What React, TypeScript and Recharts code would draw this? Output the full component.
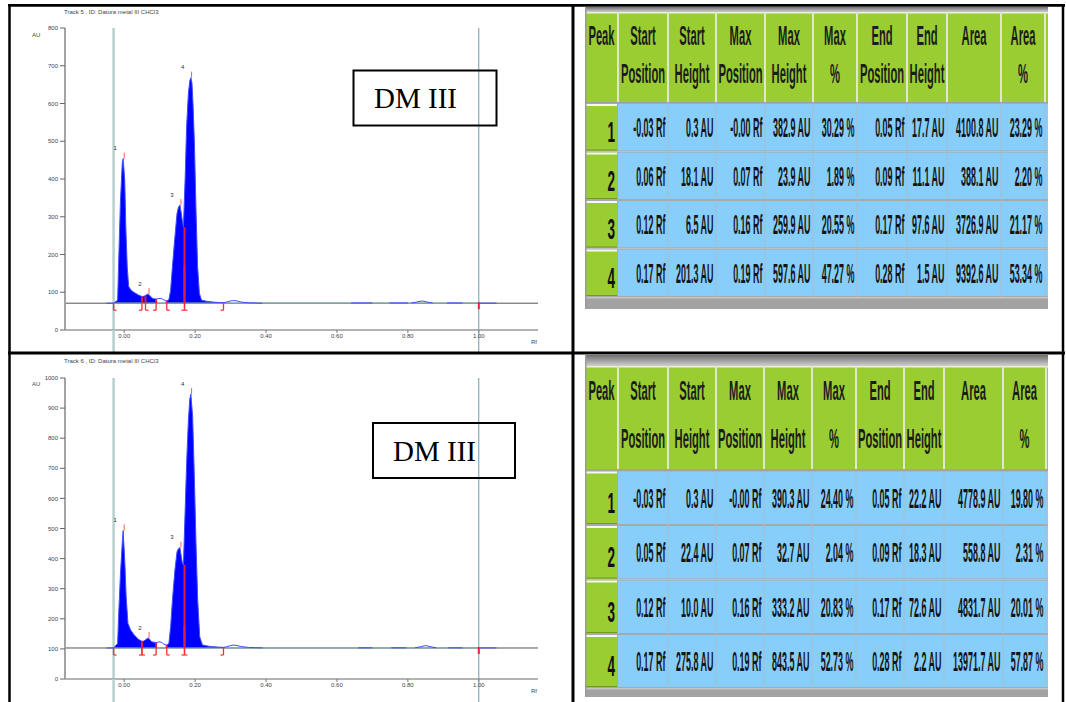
import React from "react";
import {
  ComposedChart,
  Area,
  Line,
  Scatter,
  XAxis,
  YAxis,
  ReferenceLine,
} from "recharts";

const FONT = "'Liberation Sans', Arial, sans-serif";

// Densitogram traces (Rf, AU). null = trace hidden under the baseline.
const track5Rf = [
  -0.05, -0.03, -0.0185, -0.0155, -0.0105, -0.0055, -0.003, 0.0015, 0.0045, 0.0085, 0.0125, 0.019, 0.027, 0.04,
  0.05, 0.056, 0.061, 0.066, 0.071, 0.076, 0.082, 0.09, 0.095, 0.101, 0.108, 0.115, 0.12, 0.126, 0.131, 0.136,
  0.143, 0.149, 0.153, 0.157, 0.161, 0.164, 0.167, 0.172, 0.176, 0.181, 0.185, 0.188, 0.191, 0.194, 0.198, 0.2025,
  0.207, 0.212, 0.218, 0.233, 0.25, 0.265, 0.28, 0.289, 0.3, 0.308, 0.318, 0.33, 0.35, 0.37, 0.39,
  0.5, 0.64, 0.7, 0.72, 0.748, 0.8, 0.805, 0.81, 0.825, 0.84, 0.855, 0.87, 0.89, 0.91, 0.954, 0.975, 1.0, 1.05,
];
const track5Au = [
  71, 71.3, 79, 185, 344, 441, 453.9, 397, 274, 168, 115, 106, 100, 93,
  88.7, 89.5, 92, 94.9, 92.5, 87, 83, 82.1, 83, 84, 82, 78.5, 77.5, 80, 106, 168,
  247, 309, 325, 330.9, 309, 288, 272.3, 406, 539, 627, 660, 668.6, 655, 600, 495, 318,
  168, 97, 79, 76, 74, 73, 72.5, 74, 77, 78, 77, 74, 72, 71.5, 71,
  null, 71.6, 71.6, null, 71.6, 71.6, null, 71.6, 74, 77, 74, 71.6, null, 71.6, 71.6, null, 71.3, 71.3,
];

const track6Rf = [
  -0.05, -0.03, -0.0185, -0.0155, -0.0105, -0.0055, -0.003, 0.0015, 0.0055, 0.0105, 0.018, 0.027, 0.04,
  0.05, 0.055, 0.06, 0.066, 0.071, 0.076, 0.082, 0.09, 0.095, 0.101, 0.108, 0.115, 0.12, 0.126, 0.131, 0.136,
  0.143, 0.149, 0.153, 0.157, 0.161, 0.164, 0.167, 0.171, 0.176, 0.181, 0.185, 0.188, 0.193, 0.198, 0.2027,
  0.2073, 0.213, 0.2205, 0.242, 0.265, 0.28, 0.289, 0.3, 0.308, 0.318, 0.33, 0.35, 0.37, 0.39,
  0.5, 0.66, 0.7, 0.725, 0.753, 0.796, 0.808, 0.82, 0.835, 0.85, 0.865, 0.88, 0.897, 0.914, 0.954, 0.975, 1.0, 1.05,
];
const track6Au = [
  103, 103.3, 118, 218, 351, 451, 493.3, 395, 273, 185, 163, 148, 132,
  125.2, 126, 130, 135.7, 133, 125, 122.5, 121.3, 122, 124, 119, 114, 113, 118, 174, 262,
  362, 423, 433, 436.2, 406, 385, 378.8, 528, 716, 860, 930, 946.5, 871, 661, 440,
  262, 140, 113, 108, 106, 105.2, 107, 111, 113, 111, 108, 105, 104, 103.5,
  null, 103.6, 103.6, null, 103.6, 103.6, null, 103.6, 107, 111, 107, 103.6, null, 103.6, 103.6, null, 103.3, 103.3,
];

const track5Baseline = 71;
const track6Baseline = 103;

const applicationRf = -0.03;
const frontRf = 1.0;

const rfTicks = [0, 0.2, 0.4, 0.6, 0.8, 1.0];
const au5Ticks = [0, 100, 200, 300, 400, 500, 600, 700, 800];
const au6Ticks = [0, 100, 200, 300, 400, 500, 600, 700, 800, 900, 1000];

// Peak tables
const headers = [
  ["Peak"], ["Start", "Position"], ["Start", "Height"], ["Max", "Position"], ["Max", "Height"],
  ["Max", "%"], ["End", "Position"], ["End", "Height"], ["Area"], ["Area", "%"],
];

const t5StartPos = [-0.03, 0.06, 0.12, 0.17];
const t5StartHeight = [0.3, 18.1, 6.5, 201.3];
const t5MaxPos = [-0, 0.07, 0.16, 0.19];
const t5MaxHeight = [382.9, 23.9, 259.9, 597.6];
const t5MaxPct = [30.29, 1.89, 20.55, 47.27];
const t5EndPos = [0.05, 0.09, 0.17, 0.28];
const t5EndHeight = [17.7, 11.1, 97.6, 1.5];
const t5Area = [4100.8, 388.1, 3726.9, 9392.6];
const t5AreaPct = [23.29, 2.2, 21.17, 53.34];

const t6StartPos = [-0.03, 0.05, 0.12, 0.17];
const t6StartHeight = [0.3, 22.4, 10.0, 275.8];
const t6MaxPos = [-0, 0.07, 0.16, 0.19];
const t6MaxHeight = [390.3, 32.7, 333.2, 843.5];
const t6MaxPct = [24.4, 2.04, 20.83, 52.73];
const t6EndPos = [0.05, 0.09, 0.17, 0.28];
const t6EndHeight = [22.2, 18.3, 72.6, 2.2];
const t6Area = [4778.9, 558.8, 4831.7, 13971.7];
const t6AreaPct = [19.8, 2.31, 20.01, 57.87];

type Peaks = {
  startPos: number[];
  startHeight: number[];
  maxPos: number[];
  maxHeight: number[];
  maxPct: number[];
  endPos: number[];
  endHeight: number[];
  area: number[];
  areaPct: number[];
};

const peaks5: Peaks = {
  startPos: t5StartPos, startHeight: t5StartHeight, maxPos: t5MaxPos, maxHeight: t5MaxHeight,
  maxPct: t5MaxPct, endPos: t5EndPos, endHeight: t5EndHeight, area: t5Area, areaPct: t5AreaPct,
};
const peaks6: Peaks = {
  startPos: t6StartPos, startHeight: t6StartHeight, maxPos: t6MaxPos, maxHeight: t6MaxHeight,
  maxPct: t6MaxPct, endPos: t6EndPos, endHeight: t6EndHeight, area: t6Area, areaPct: t6AreaPct,
};

const fmtRf = (v: number) => (Object.is(v, -0) ? "-" : "") + v.toFixed(2) + " Rf";
const fmtAu = (v: number) => v.toFixed(1) + " AU";
const fmtPct = (v: number) => v.toFixed(2) + " %";

// integrated windows: touching peaks are merged into one filled block
function integrationRanges(p: Peaks): [number, number][] {
  const out: [number, number][] = [];
  let cur: [number, number] = [p.startPos[0], p.endPos[0]];
  for (let i = 1; i < p.startPos.length; i++) {
    if (p.startPos[i] - cur[1] <= 0.011) cur[1] = p.endPos[i];
    else {
      out.push(cur);
      cur = [p.startPos[i], p.endPos[i]];
    }
  }
  out.push(cur);
  return out;
}

const RED = "#ff2d2d";

function MarkShape(props: any) {
  const { cx, cy, payload } = props;
  if (cx == null || cy == null) return <g />;
  const k = payload.kind;
  if (k === "apex") {
    return (
      <g>
        <line x1={cx} x2={cx} y1={cy} y2={cy - 6} stroke="#ff5a5a" strokeWidth={1} />
        <text x={cx - 9} y={cy - 8.5} fontSize={6} fill="#333" fontFamily={FONT} textAnchor="middle">
          {payload.label}
        </text>
      </g>
    );
  }
  if (k === "start" || k === "end") {
    const d = k === "start" ? 3 : -3;
    return (
      <g>
        <line x1={cx} x2={cx} y1={cy} y2={cy + 7} stroke={RED} strokeWidth={1.3} />
        <line x1={cx} x2={cx + d} y1={cy + 7} y2={cy + 7} stroke={RED} strokeWidth={1.2} />
      </g>
    );
  }
  if (k === "front") {
    return <line x1={cx} x2={cx} y1={cy - 1} y2={cy + 6} stroke="#e8203a" strokeWidth={2} />;
  }
  if (k === "appExt") {
    return <line x1={cx} x2={cx} y1={cy} y2={cy + 24} stroke="#b7d0cf" strokeWidth={2.5} />;
  }
  if (k === "frontExt") {
    return <line x1={cx} x2={cx} y1={cy} y2={cy + 24} stroke="#6f9aa6" strokeWidth={1} />;
  }
  return <g />;
}

type TrackProps = {
  rf: number[];
  au: (number | null)[];
  base: number;
  peaks: Peaks;
  yTicks: number[];
  top: number;
  height: number;
};

function TrackChart({ rf, au, base, peaks, yTicks, top, height }: TrackProps) {
  const signal = rf.map((x, i) => ({ rf: x, au: au[i] }));
  const ranges = integrationRanges(peaks);
  const filled = signal.map((p) => ({
    rf: p.rf,
    au: p.au != null && ranges.some(([a, b]) => p.rf >= a - 1e-6 && p.rf <= b + 1e-6) ? p.au : null,
  }));
  const baseline = [
    { rf: -0.167, au: base },
    { rf: 1.167, au: base },
  ];
  const plateBaseline = [
    { rf: applicationRf, au: base },
    { rf: frontRf, au: base },
  ];
  const marks = [
    ...peaks.startPos.map((x) => ({ rf: x, au: base, kind: "start" })),
    ...peaks.endPos.map((x) => ({ rf: x, au: base, kind: "end" })),
    ...peaks.maxPos.map((x, i) => ({ rf: x, au: base + peaks.maxHeight[i], kind: "apex", label: String(i + 1) })),
    { rf: frontRf, au: base, kind: "front" },
    { rf: applicationRf, au: 0, kind: "appExt" },
    { rf: frontRf, au: 0, kind: "frontExt" },
  ];
  const tick = { fontSize: 6, fill: "#444", fontFamily: FONT };

  return (
    <div style={{ position: "absolute", left: 10, top }}>
      <ComposedChart width={545} height={height} margin={{ top: 20, right: 17, bottom: 0, left: 0 }}>
        <XAxis
          type="number"
          dataKey="rf"
          domain={[-0.167, 1.167]}
          ticks={rfTicks}
          interval={0}
          tickFormatter={(v: number) => v.toFixed(2)}
          height={23}
          tickSize={3}
          tickMargin={1}
          tick={tick}
          axisLine={{ stroke: "#9a9a9a", strokeWidth: 1.5 }}
          tickLine={{ stroke: "#777" }}
        />
        <YAxis
          type="number"
          dataKey="au"
          domain={[0, yTicks[yTicks.length - 1]]}
          ticks={yTicks}
          interval={0}
          width={55}
          tickSize={5}
          tickMargin={2}
          tick={tick}
          axisLine={{ stroke: "#a3a3a3", strokeWidth: 2 }}
          tickLine={{ stroke: "#666" }}
        />
        <ReferenceLine x={applicationRf} stroke="#b7d0cf" strokeWidth={2.5} />
        <ReferenceLine x={frontRf} stroke="#6f9aa6" strokeWidth={1} />
        <Line data={baseline} dataKey="au" stroke="#555" strokeWidth={1} dot={false} isAnimationActive={false} />
        <Line data={plateBaseline} dataKey="au" stroke="#7fadad" strokeWidth={1.2} dot={false} isAnimationActive={false} />
        <Area
          data={filled}
          dataKey="au"
          type="linear"
          baseValue={base}
          stroke="none"
          fill="#0000ff"
          fillOpacity={1}
          isAnimationActive={false}
        />
        <Line
          data={signal}
          dataKey="au"
          type="linear"
          stroke="#3f4dff"
          strokeWidth={1}
          dot={false}
          isAnimationActive={false}
        />
        {peaks.startPos.map((x, i) => (
          <ReferenceLine
            key={"s" + i}
            segment={[{ x, y: base }, { x, y: base + peaks.startHeight[i] }]}
            stroke="#e0203a"
            strokeWidth={2}
          />
        ))}
        {peaks.endPos.map((x, i) => (
          <ReferenceLine
            key={"e" + i}
            segment={[{ x, y: base }, { x, y: base + peaks.endHeight[i] }]}
            stroke="#e0203a"
            strokeWidth={2}
          />
        ))}
        <Scatter data={marks} dataKey="au" shape={MarkShape} isAnimationActive={false} />
      </ComposedChart>
    </div>
  );
}

type TableGeom = {
  cols: number[];
  right: number;
  stripTop: number;
  headTop: number;
  headBottom: number;
  rows: number[];
  bottom: number;
  line1: number;
  line2: number;
};

const GREEN = "#9acd32";
const BLUE = "#87cefa";

function PeakTable({ peaks, g, id }: { peaks: Peaks; g: TableGeom; id: string }) {
  const body = peaks.startPos.map((_, i) => [
    String(i + 1),
    fmtRf(peaks.startPos[i]),
    fmtAu(peaks.startHeight[i]),
    fmtRf(peaks.maxPos[i]),
    fmtAu(peaks.maxHeight[i]),
    fmtPct(peaks.maxPct[i]),
    fmtRf(peaks.endPos[i]),
    fmtAu(peaks.endHeight[i]),
    fmtAu(peaks.area[i]),
    fmtPct(peaks.areaPct[i]),
  ]);
  const left = g.cols[0];
  const inner = g.cols.slice(1);
  return (
    <g>
      <defs>
        <linearGradient id={id} x1="0" y1="0" x2="0" y2="1">
          <stop offset="0" stopColor="#6e6e6e" />
          <stop offset="1" stopColor="#d0d0d0" />
        </linearGradient>
      </defs>
      <rect x={left} y={g.stripTop} width={g.right - left} height={g.headTop - g.stripTop} fill={`url(#${id})`} />
      <rect x={left} y={g.headTop} width={g.right - left} height={g.headBottom - g.headTop} fill={GREEN} />
      <rect x={left} y={g.headTop} width={g.right - left} height={1.5} fill="#e8f2d8" />
      <rect x={left} y={g.headBottom} width={g.right - left} height={g.rows[0] - g.headBottom + 1} fill="#a0a0a0" />
      {body.map((_, r) => {
        const y0 = g.rows[r] + 1;
        const y1 = g.rows[r + 1] - 1;
        return (
          <g key={r}>
            <rect x={g.cols[1]} y={g.rows[r]} width={g.right - g.cols[1]} height={g.rows[r + 1] - g.rows[r]} fill="#a9a9a9" />
            <rect x={g.cols[1]} y={y0} width={g.right - g.cols[1]} height={y1 - y0} fill={BLUE} />
            <rect x={left} y={g.rows[r]} width={g.cols[1] - left} height={g.rows[r + 1] - g.rows[r]} fill="#a9a9a9" />
            <rect x={left + 1} y={y0} width={g.cols[1] - left - 2} height={y1 - y0} fill={GREEN} />
            <rect x={left + 1} y={y0} width={g.cols[1] - left - 2} height={2} fill="#f4f8ee" />
            <rect x={left + 1} y={y1 - 1} width={g.cols[1] - left - 2} height={1} fill="#6f9a1e" />
          </g>
        );
      })}
      {inner.map((x, i) => (
        <g key={i}>
          <rect x={x - 1} y={g.headTop} width={2} height={g.headBottom - g.headTop} fill="#dfe8cf" />
          {i > 0 && <rect x={x - 0.5} y={g.rows[0]} width={1} height={g.rows[4] - g.rows[0]} fill="#a7bccb" />}
        </g>
      ))}
      <rect x={left} y={g.rows[4]} width={g.right - left} height={g.bottom - g.rows[4]} fill="#a2a2a2" />
      <rect x={left} y={g.rows[4]} width={g.right - left} height={1.5} fill="#c4c4c4" />
      <rect x={left} y={g.stripTop} width={1.5} height={g.bottom - g.stripTop} fill="#9a9a9a" />
      {headers.map((h, j) => {
        const cx = (g.cols[j] + g.cols[j + 1]) / 2;
        return h.map((s, k) => (
          <text
            key={j + "-" + k}
            transform={`translate(${cx},${k === 0 ? g.line1 : g.line2}) scale(0.4,1)`}
            textAnchor="middle"
            fontSize={28}
            fontFamily={FONT}
            fontWeight="bold"
            fill="#1c1c1c"
          >
            {s}
          </text>
        ));
      })}
      {body.map((row, r) => {
        const mid = (g.rows[r] + g.rows[r + 1]) / 2;
        return row.map((s, j) =>
          j === 0 ? (
            <text
              key={r + "-" + j}
              transform={`translate(${g.cols[1] - 3},${mid + 15}) scale(0.45,1)`}
              textAnchor="end"
              fontSize={30}
              fontFamily={FONT}
              fontWeight="bold"
              fill="#111"
            >
              {s}
            </text>
          ) : (
            <text
              key={r + "-" + j}
              transform={`translate(${g.cols[j + 1] - 2.5},${mid + 10}) scale(0.32,1)`}
              textAnchor="end"
              fontSize={28}
              fontFamily={FONT}
              fontWeight="bold"
              fill="#141414"
            >
              {s}
            </text>
          )
        );
      })}
    </g>
  );
}

const table5Geom: TableGeom = {
  cols: [585, 618, 668, 716, 765, 813, 857, 907, 947, 1001, 1045],
  right: 1048,
  stripTop: 7,
  headTop: 12,
  headBottom: 102,
  rows: [103, 151.5, 200, 248.5, 297],
  bottom: 309,
  line1: 45,
  line2: 83,
};
const table6Geom: TableGeom = {
  cols: [585, 618, 668, 716, 764, 812, 856, 904, 944, 1003, 1046],
  right: 1048,
  stripTop: 355,
  headTop: 366,
  headBottom: 469,
  rows: [470.5, 525, 579.5, 634, 688],
  bottom: 697,
  line1: 400,
  line2: 448,
};

export default function App() {
  const small = { fontSize: 6, fill: "#444", fontFamily: FONT };
  return (
    <div style={{ position: "absolute", left: 0, top: 0, width: 1066, height: 702, background: "#fff", overflow: "hidden" }}>
      <TrackChart rf={track5Rf} au={track5Au} base={track5Baseline} peaks={peaks5} yTicks={au5Ticks} top={8} height={345} />
      <TrackChart rf={track6Rf} au={track6Au} base={track6Baseline} peaks={peaks6} yTicks={au6Ticks} top={358} height={344} />
      <svg width={1066} height={702} style={{ position: "absolute", left: 0, top: 0, pointerEvents: "none" }}>
        <text x={64} y={14} {...small}>Track  5 , ID: Datura metal III CHCl3</text>
        <text x={32} y={37} {...small}>AU</text>
        <text x={531} y={344} {...small}>Rf</text>
        <text x={64} y={363} {...small}>Track  6 , ID: Datura metal III CHCl3</text>
        <text x={32} y={386} {...small}>AU</text>
        <text x={531} y={693} {...small}>Rf</text>

        <rect x={353.5} y={70.5} width={143} height={55} fill="none" stroke="#000" strokeWidth={2} />
        <text x={374} y={108} fontSize={29} fontFamily="'Liberation Serif', 'Times New Roman', serif" fill="#000">DM III</text>
        <rect x={373} y={423} width={142} height={55} fill="none" stroke="#000" strokeWidth={2} />
        <text x={393} y={461} fontSize={29} fontFamily="'Liberation Serif', 'Times New Roman', serif" fill="#000">DM III</text>

        <PeakTable peaks={peaks5} g={table5Geom} id="strip5" />
        <PeakTable peaks={peaks6} g={table6Geom} id="strip6" />

        <line x1={8} x2={1065} y1={5.3} y2={5.3} stroke="#000" strokeWidth={2.7} />
        <line x1={8} x2={1065} y1={353} y2={353} stroke="#000" strokeWidth={3} />
        <line x1={9.5} x2={9.5} y1={4} y2={702} stroke="#000" strokeWidth={2.5} />
        <line x1={573} x2={573} y1={4} y2={702} stroke="#000" strokeWidth={3} />
        <line x1={1063} x2={1063} y1={4} y2={702} stroke="#000" strokeWidth={2.5} />
      </svg>
    </div>
  );
}
